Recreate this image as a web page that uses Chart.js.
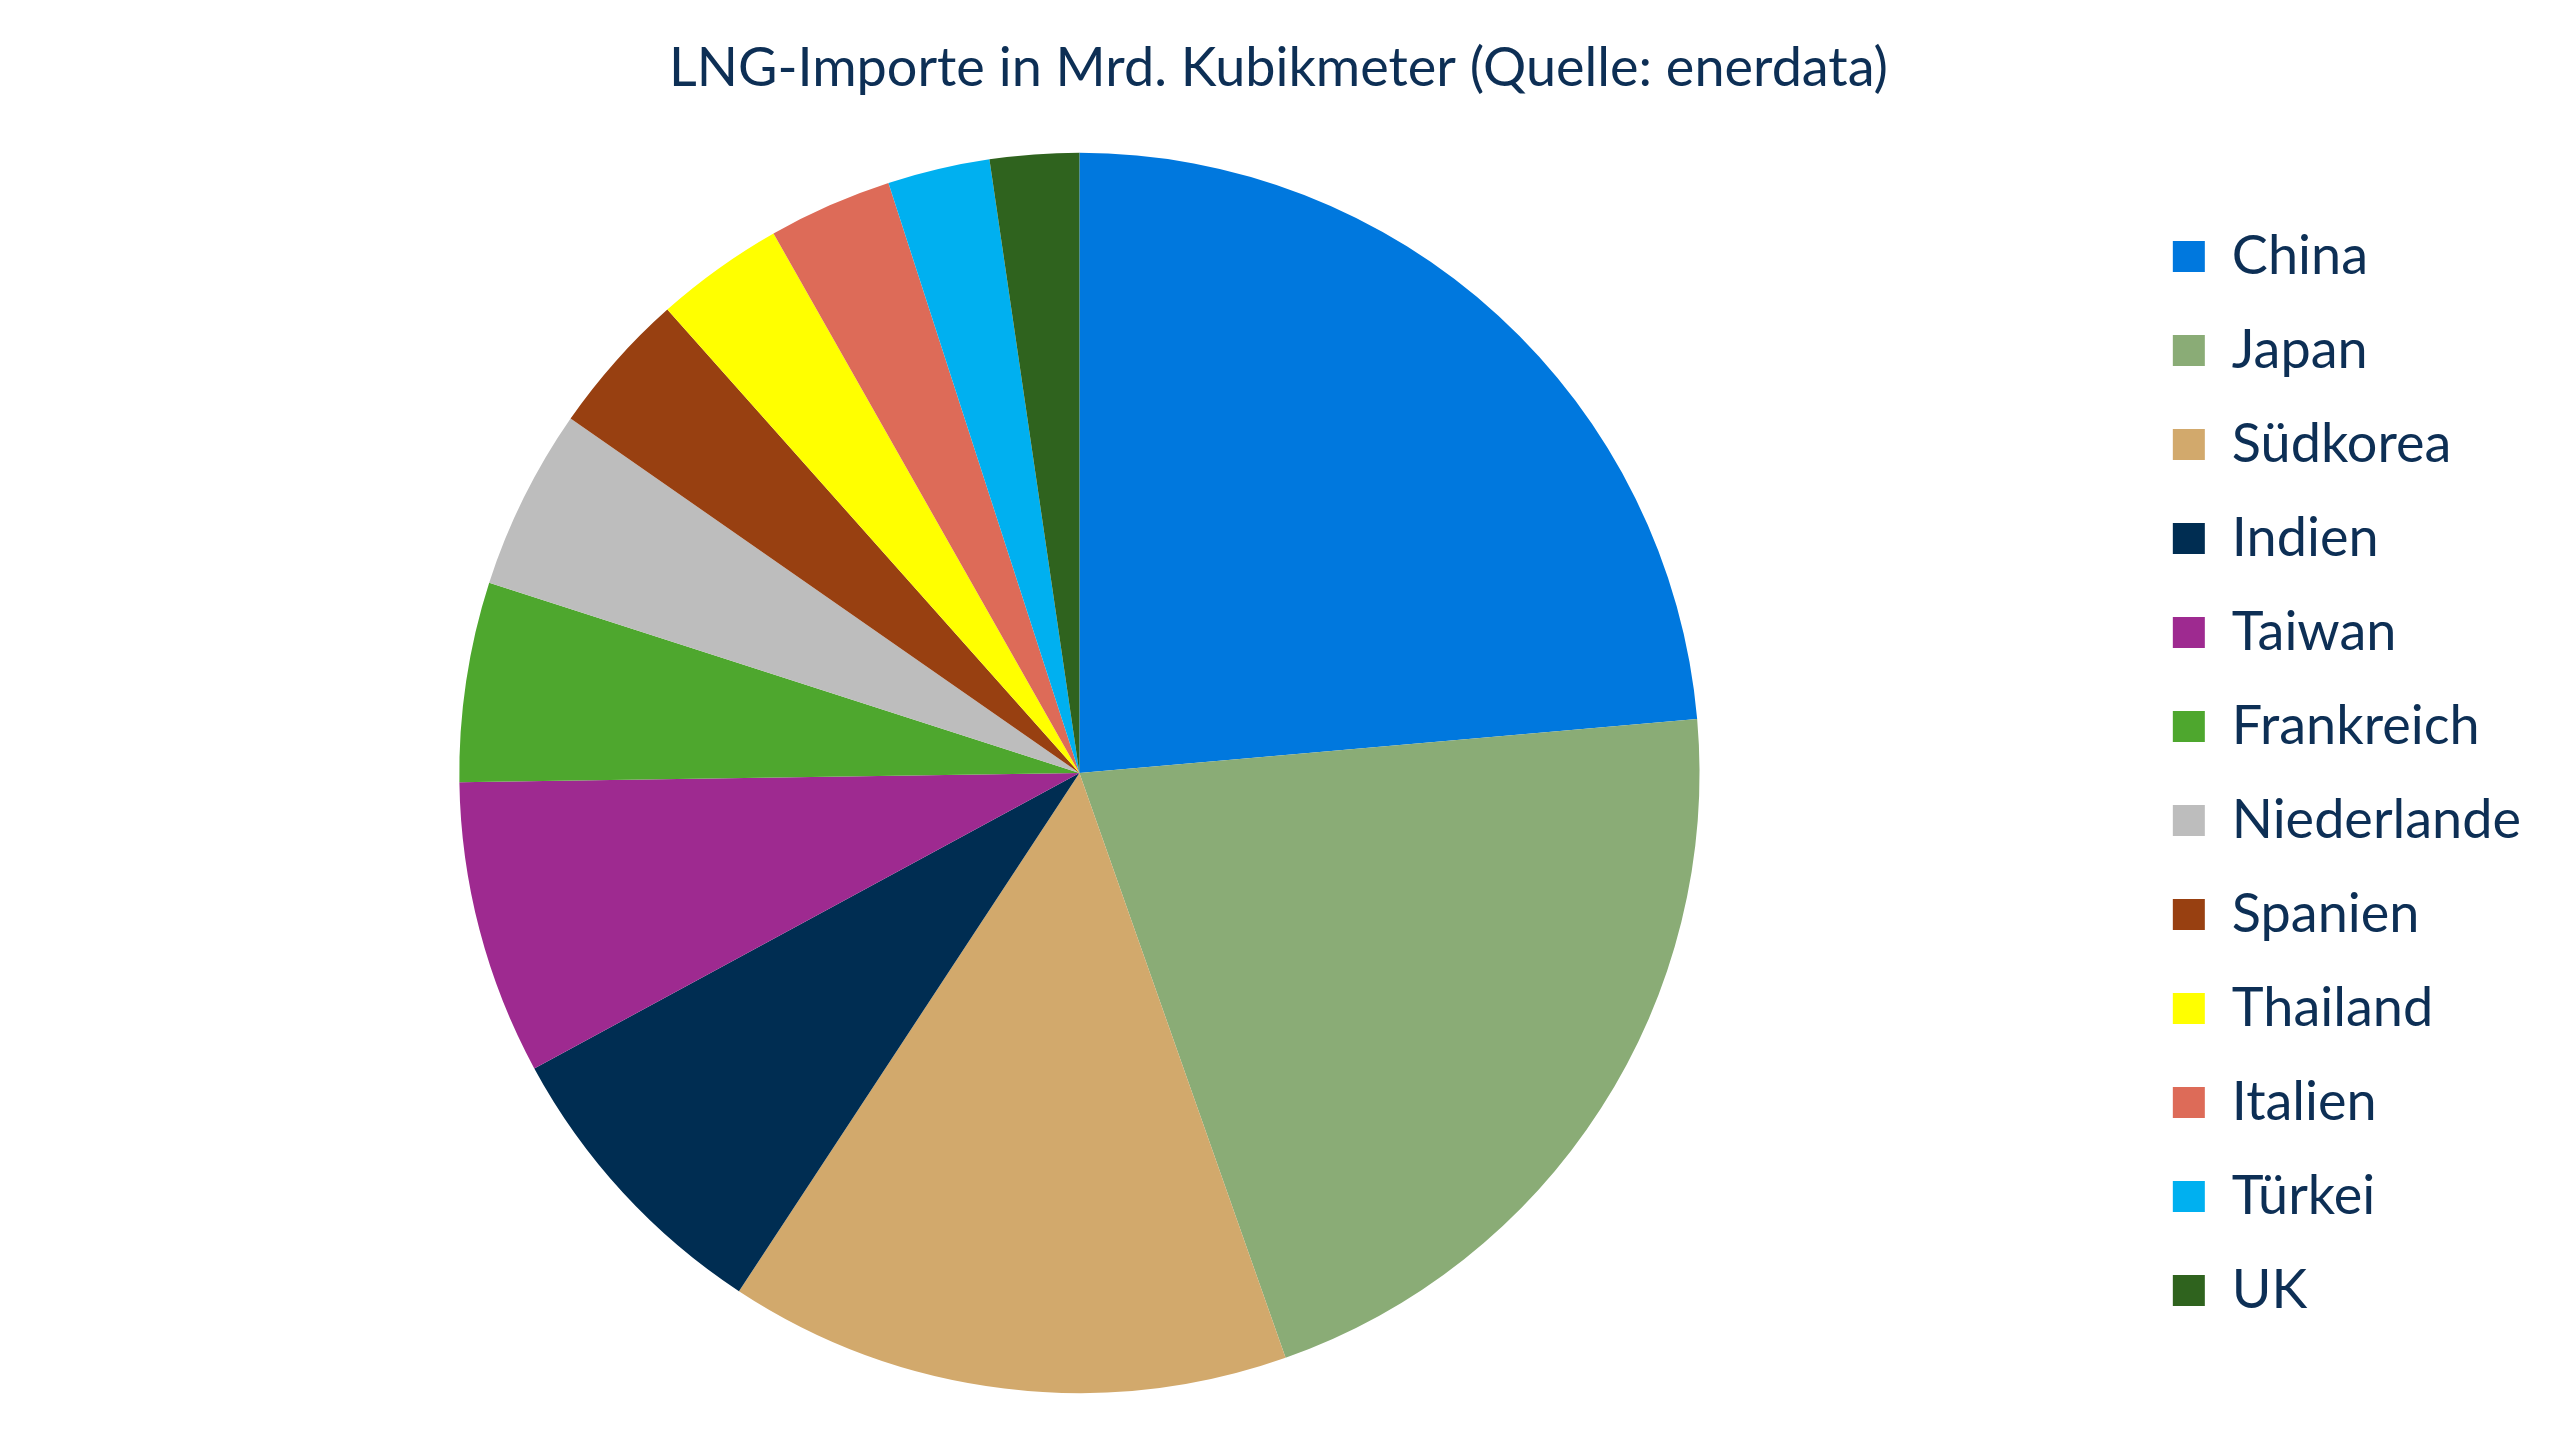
<!DOCTYPE html>
<html>
<head>
<meta charset="utf-8">
<script src="https://cdn.jsdelivr.net/npm/chart.js@4"></script>
<style>
  html, body { margin: 0; padding: 0; background: #ffffff; }
  #wrap { width: 2560px; height: 1439px; position: relative; }
</style>
</head>
<body>
<div id="wrap"><canvas id="lngChart"></canvas></div>
<script>
// LNG-Importe in Mrd. Kubikmeter
const laender = ['China', 'Japan', 'Südkorea', 'Indien', 'Taiwan', 'Frankreich',
                 'Niederlande', 'Spanien', 'Thailand', 'Italien', 'Türkei', 'UK'];
const importe = [109.0, 96.9, 67.6, 36.2, 35.4, 24.0, 21.8, 17.3, 15.5, 14.9, 12.3, 10.7];
const farben = ['#0078DE', '#8AAC76', '#D2A96C', '#002D52', '#9E2A90', '#4EA72E',
                '#BDBDBD', '#984011', '#FFFF00', '#DD6B58', '#00B0F0', '#2F631E'];

const textFarbe = '#0d2f55';

document.addEventListener('DOMContentLoaded', function() {
    const ctx = document.getElementById('lngChart').getContext('2d');

    new Chart(ctx, {
        type: 'pie',
        data: {
            labels: laender,
            datasets: [{
                data: importe,
                backgroundColor: farben,
                borderWidth: 0
            }]
        },
        options: {
            responsive: true,
            maintainAspectRatio: false,
            animation: false,
            layout: {
                padding: { left: 26, right: 29, top: 0, bottom: 46 }
            },
            plugins: {
                title: {
                    display: true,
                    text: 'LNG-Importe in Mrd. Kubikmeter (Quelle: enerdata)',
                    color: textFarbe,
                    font: { family: 'Lato', size: 54, weight: 'normal' },
                    padding: { top: 36, bottom: 52 }
                },
                legend: {
                    position: 'right',
                    // leerer Titel schiebt die Einträge nach unten
                    title: {
                        display: true,
                        text: ' ',
                        font: { size: 10 },
                        padding: { top: 71, bottom: 71 }
                    },
                    labels: {
                        boxWidth: 32,
                        boxHeight: 31,
                        padding: 40,
                        color: textFarbe,
                        font: { family: 'Lato', size: 54 }
                    }
                },
                tooltip: { enabled: false }
            }
        }
    });
});
</script>
</body>
</html>
